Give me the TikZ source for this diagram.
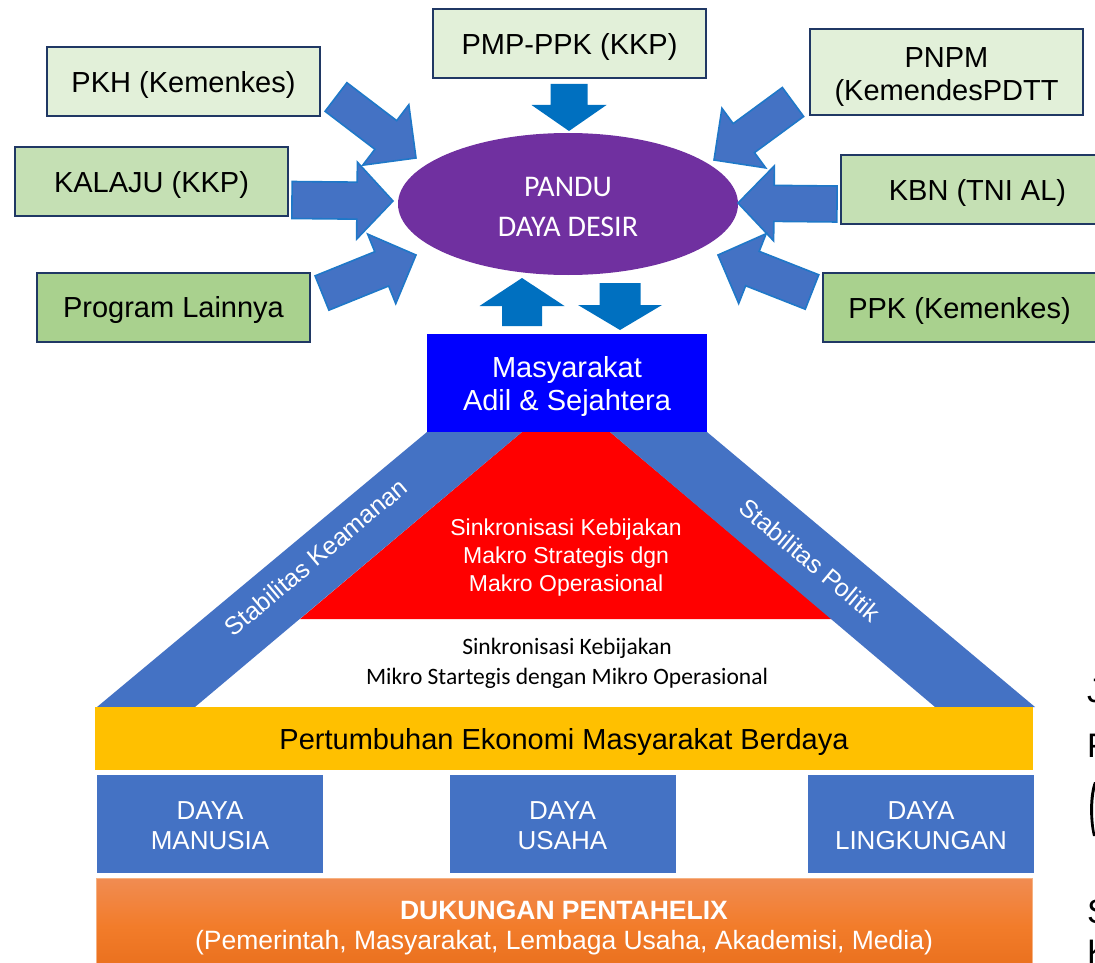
\documentclass[tikz,border=0pt]{standalone}
\usepackage{fontspec}
\setmainfont{Liberation Sans}
\newfontfamily\calibri{Carlito}
\usetikzlibrary{calc,shapes.geometric}
\definecolor{navy}{RGB}{32,56,100}
\definecolor{gA}{RGB}{226,240,217}
\definecolor{gB}{RGB}{197,224,180}
\definecolor{gC}{RGB}{169,209,142}
\definecolor{arrowblue}{RGB}{68,114,196}
\definecolor{arrowedge}{RGB}{31,120,200}
\definecolor{darrow}{RGB}{0,112,192}
\definecolor{purp}{RGB}{112,48,160}
\definecolor{pureblue}{RGB}{0,0,255}
\definecolor{bandblue}{RGB}{68,114,196}
\definecolor{yel}{RGB}{255,192,0}
\definecolor{orT}{RGB}{241,140,82}
\definecolor{orM}{RGB}{242,124,42}
\definecolor{orB}{RGB}{232,110,28}
\definecolor{orEdge}{RGB}{246,178,130}
\newcommand{\barrow}[6]{%
  \path ($(#3)!#6!(#2)$) coordinate (ab);
  \draw[#1] ($(#2)!#4!90:(#3)$) -- ($(ab)!#4!90:(#3)$) -- ($(ab)!#5!90:(#3)$) -- (#3)
    -- ($(ab)!#5!-90:(#3)$) -- ($(ab)!#4!-90:(#3)$) -- ($(#2)!#4!-90:(#3)$) -- cycle;}
\begin{document}
\begin{tikzpicture}[x=1pt,y=-1pt,
  prog/.style={draw=navy, line width=2.2pt, minimum width=273pt, minimum height=69pt,
    inner sep=0pt},
  plabel/.style={align=center, inner sep=0pt, yshift=-3pt, font=\fontsize{29}{33}\selectfont},
  blk/.style={fill=arrowblue, draw=arrowedge, line width=1.6pt, line join=miter},
  sblk/.style={fill=darrow, draw=none},
  daya/.style={fill=bandblue, minimum width=226pt, minimum height=98pt, inner sep=0pt},
  dlabel/.style={align=center, inner sep=0pt, yshift=-2pt, text=white, font=\fontsize{26}{30}\selectfont},
  wlabel/.style={text=white, font=\fontsize{25}{28}\selectfont, inner sep=0pt},
  edgetxt/.style={text=black, font=\fontsize{34}{40}\selectfont, inner sep=0pt, anchor=base west}
]
\useasboundingbox (0,0) rectangle (1095,963);

% program boxes
\node[prog, fill=gA, label={[plabel]center:PKH (Kemenkes)}] (pkh) at (183.5,81.5) {};
\node[prog, fill=gB, label={[plabel]center:KALAJU (KKP)}] (kalaju) at (151.5,181.5) {};
\node[prog, fill=gC, label={[plabel]center:Program Lainnya}] (lain) at (173.5,307.5) {};
\node[prog, fill=gA, label={[plabel]center:PMP-PPK (KKP)}] (pmp) at (569.5,43.5) {};
\node[prog, fill=gA, minimum height=86pt, label={[plabel, yshift=-2pt]center:PNPM\\(KemendesPDTT}] (pnpm) at (946.5,72) {};
\node[prog, fill=gB, label={[plabel]center:KBN (TNI AL)}] (kbn) at (977.5,189.5) {};
\node[prog, fill=gC, label={[plabel]center:PPK (Kemenkes)}] (ppk) at (959.5,307.5) {};

% central ellipse
\node[ellipse, fill=purp, minimum width=340pt, minimum height=142pt, inner sep=0pt,
  label={[align=center, inner sep=0pt, yshift=-3pt, text=white, font=\calibri\fontsize{30}{40}\selectfont]center:PANDU\\DAYA DESIR}] (pandu) at (568,204) {};

% arrow coordinates
\coordinate (a1t) at (336,97);  \coordinate (a1h) at (416,158);
\coordinate (a2t) at (292,200); \coordinate (a2h) at (393,201);
\coordinate (a3t) at (322,293); \coordinate (a3h) at (416,255);
\coordinate (a4t) at (793,102); \coordinate (a4h) at (714,160);
\coordinate (a5t) at (837,204); \coordinate (a5h) at (738,203);
\coordinate (a6t) at (812,292); \coordinate (a6h) at (718,255);
\coordinate (a7t) at (569,84);  \coordinate (a7h) at (569,131);
\coordinate (a8t) at (522,326); \coordinate (a8h) at (522,278);
\coordinate (a9t) at (620,283); \coordinate (a9h) at (620,330);

\barrow{blk}{a1t}{a1h}{18pt}{38pt}{38pt}
\barrow{blk}{a2t}{a2h}{18.5pt}{38.5pt}{36pt}
\barrow{blk}{a3t}{a3h}{18.5pt}{37.5pt}{37pt}
\barrow{blk}{a4t}{a4h}{18pt}{37pt}{37pt}
\barrow{blk}{a5t}{a5h}{18pt}{37.5pt}{36pt}
\barrow{blk}{a6t}{a6h}{18.5pt}{37.5pt}{37pt}
\barrow{sblk}{a7t}{a7h}{18.5pt}{37.5pt}{26pt}
\barrow{sblk}{a8t}{a8h}{20pt}{42.5pt}{28pt}
\barrow{sblk}{a9t}{a9h}{20.5pt}{42pt}{25pt}

% pyramid
\fill[red] (522,432) -- (610,432) -- (832,619) -- (300,619) -- cycle;
\fill[bandblue] (427,432) -- (522,432) -- (195,707) -- (97,707) -- cycle;
\fill[bandblue] (610,432) -- (707,432) -- (1035,707) -- (935,707) -- cycle;

\node[fill=pureblue, minimum width=280pt, minimum height=98pt, inner sep=0pt,
  label={[align=center, inner sep=0pt, yshift=-3pt, text=white, font=\fontsize{29}{33}\selectfont]center:Masyarakat\\Adil \& Sejahtera}] (masy) at (567,383) {};

\node[text=white, align=center, inner sep=0pt, font=\fontsize{23}{28}\selectfont] (makro) at (566,558)
  {Sinkronisasi Kebijakan\\Makro Strategis dgn\\Makro Operasional};
\node[align=center, inner sep=0pt, font=\calibri\fontsize{23.5}{30}\selectfont] (mikro) at (567,663)
  {Sinkronisasi Kebijakan\\Mikro Startegis dengan Mikro Operasional};

\node[wlabel, rotate=40] (kam) at (316,557) {Stabilitas Keamanan};
\node[wlabel, rotate=-40] (pol) at (810,560) {Stabilitas Politik};

\node[fill=yel, minimum width=938pt, minimum height=63pt, inner sep=0pt,
  label={[inner sep=0pt, yshift=-3pt, font=\fontsize{29}{33}\selectfont]center:Pertumbuhan Ekonomi Masyarakat Berdaya}] (eko) at (564,738.5) {};

\node[daya, label={[dlabel]center:DAYA\\MANUSIA}] (dm) at (210,824) {};
\node[daya, label={[dlabel]center:DAYA\\USAHA}] (du) at (562.5,824) {};
\node[daya, label={[dlabel]center:DAYA\\LINGKUNGAN}] (dl) at (921,824) {};

\shade[top color=orT, bottom color=orB, middle color=orM] (96,878) rectangle (1032,975);
\draw[orEdge, line width=1pt] (96,975) -- (96,878) -- (1032,878) -- (1032,975);
\node[text=white, align=center, inner sep=0pt, font=\fontsize{26.5}{30}\selectfont] (penta) at (564,928)
  {\textbf{DUKUNGAN PENTAHELIX}\\(Pemerintah, Masyarakat, Lembaga Usaha, Akademisi, Media)};

% cut-off text at the right edge
\node[edgetxt] (e1) at (1087,702) {J};
\node[edgetxt] (e2) at (1087,757) {F};
\fill[black] (1094,782) .. controls (1089,795) and (1089,820) .. (1093,836)
  -- (1095.5,836) .. controls (1092,820) and (1092,795) .. (1097,782) -- cycle;
\node[edgetxt] (e3) at (1087,923) {S};
\node[edgetxt] (e4) at (1087,963) {K};
\end{tikzpicture}
\end{document}
